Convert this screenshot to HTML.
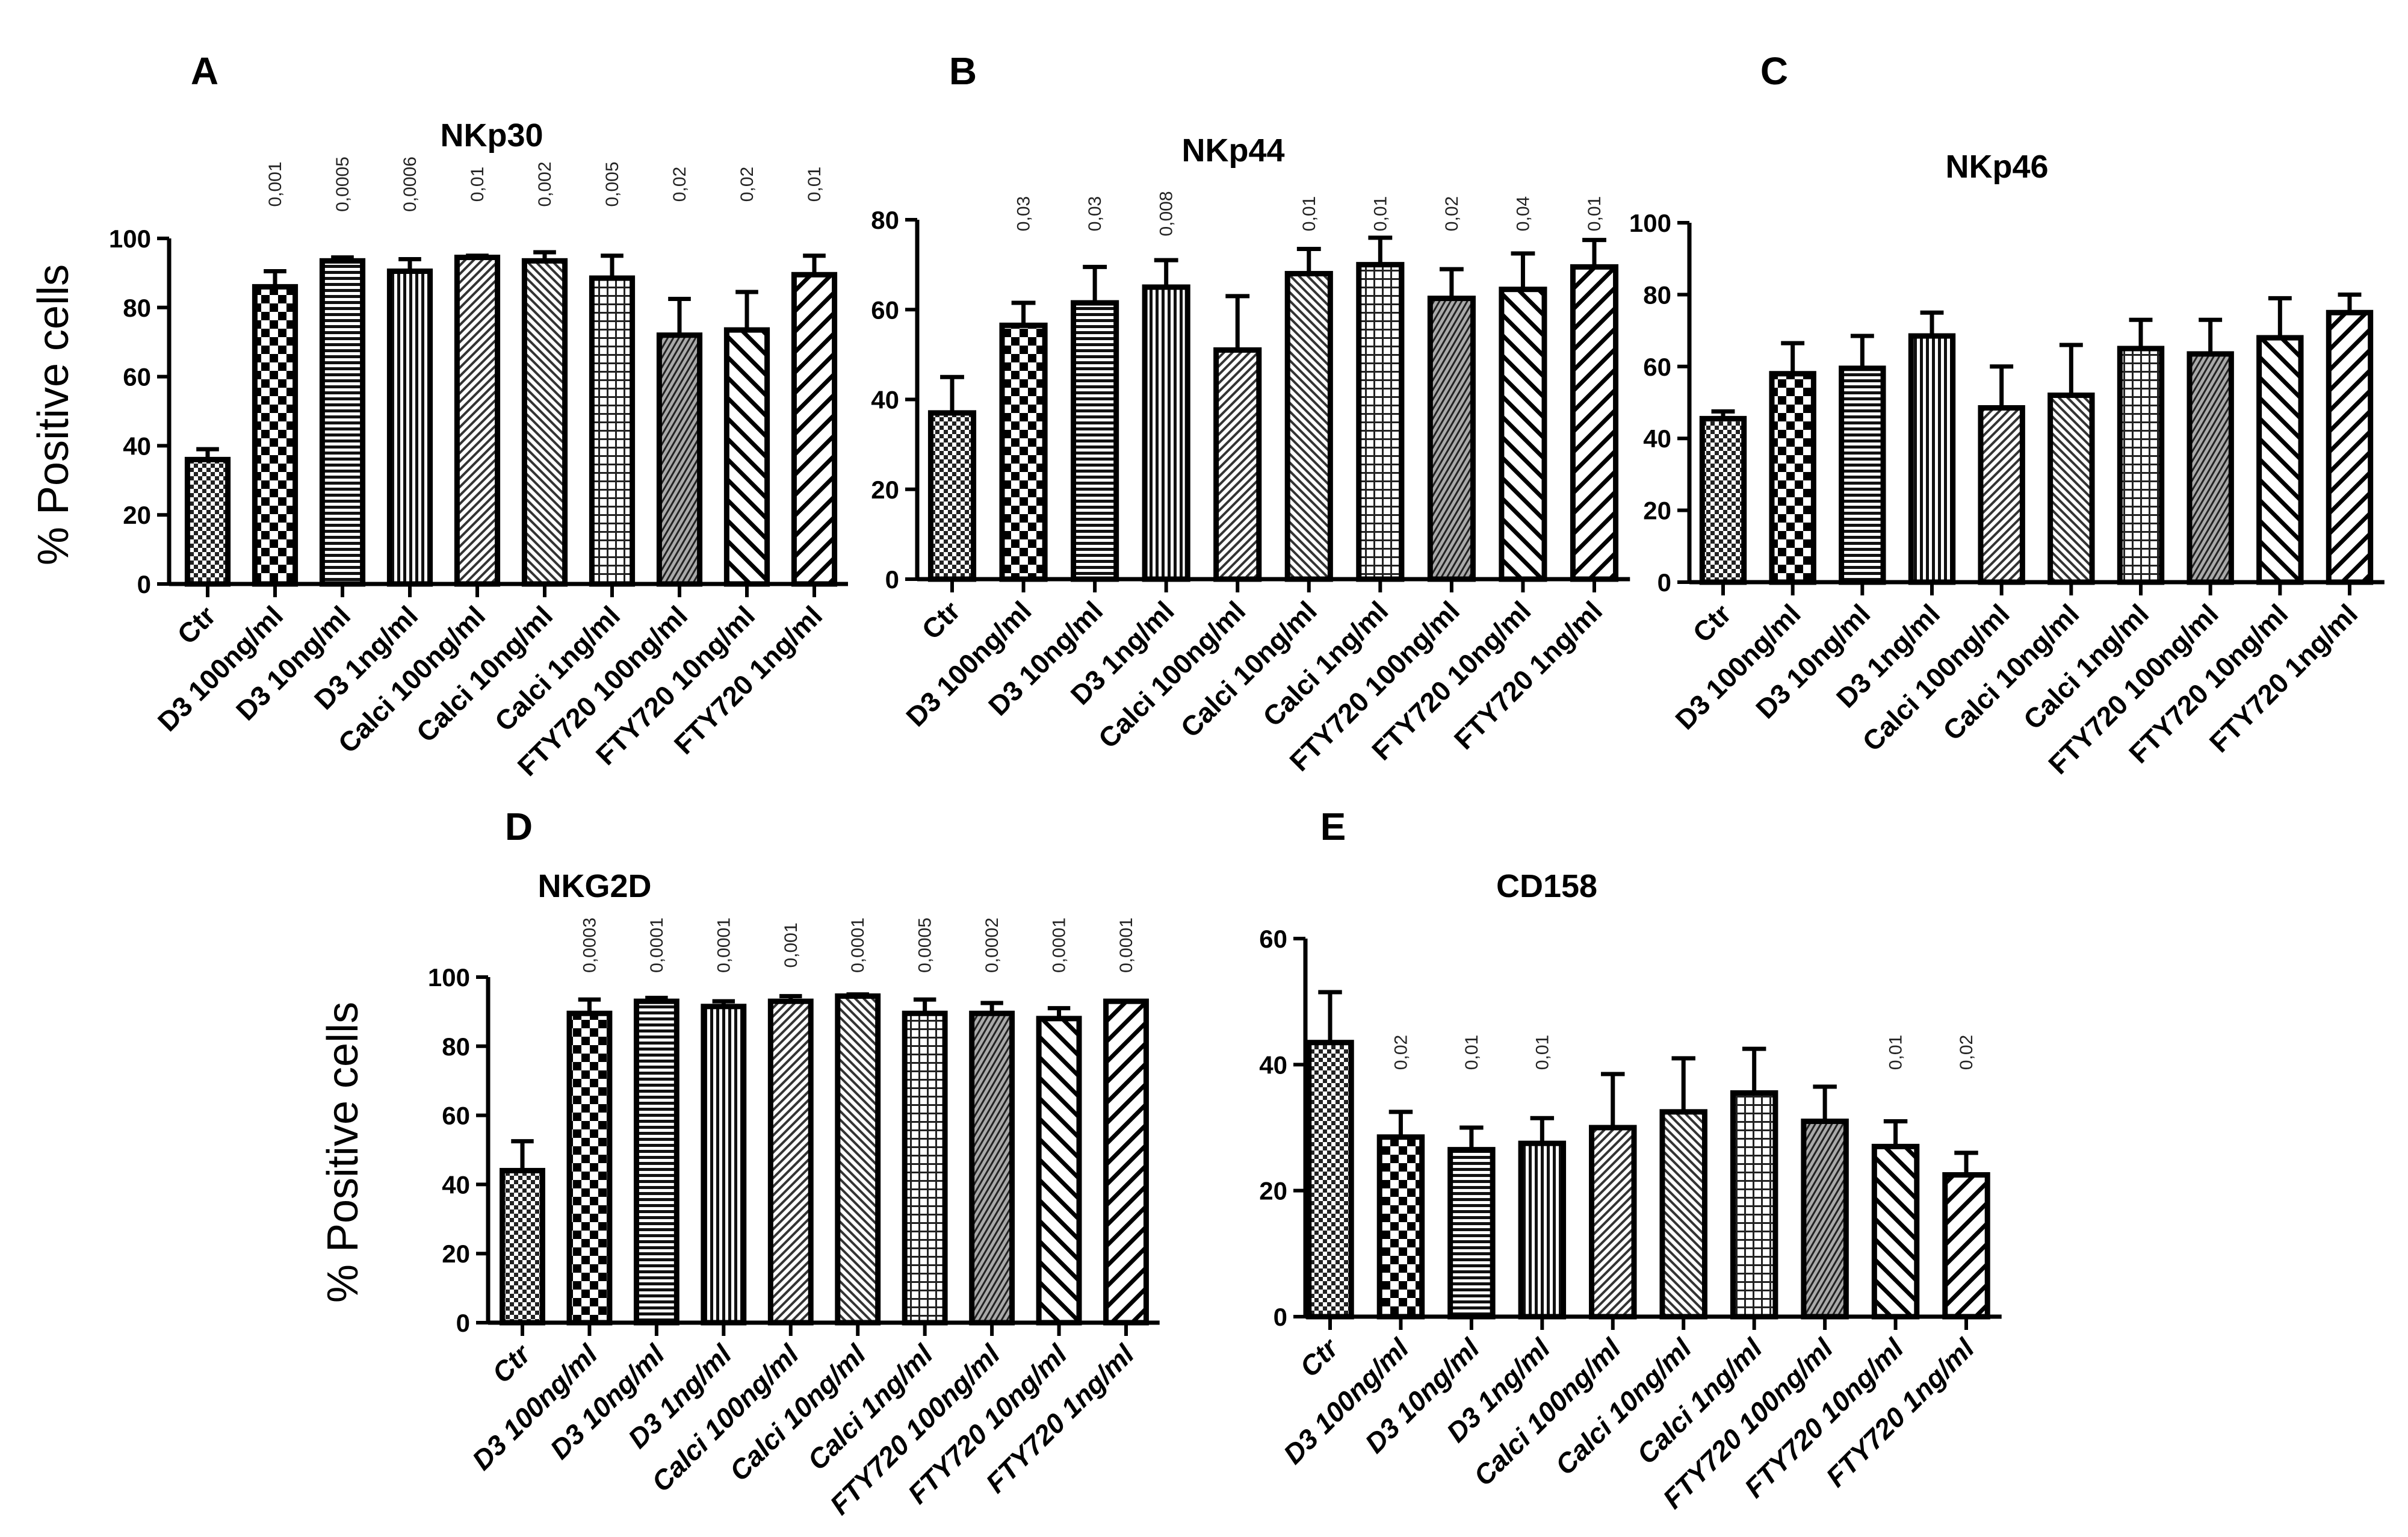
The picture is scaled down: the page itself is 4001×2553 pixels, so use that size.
<!DOCTYPE html>
<html><head><meta charset="utf-8"><style>
html,body{margin:0;padding:0;background:#fff;}
svg{display:block;}
text{font-family:"Liberation Sans",Arial,sans-serif;}
</style></head><body>
<svg id="fig" width="4001" height="2553" viewBox="0 0 4001 2553" xmlns="http://www.w3.org/2000/svg">
<defs>
<pattern id="p0" width="14" height="14" patternUnits="userSpaceOnUse"><rect width="14" height="14" fill="#fff"/><rect width="7" height="7" fill="#222"/><rect x="7" y="7" width="7" height="7" fill="#222"/></pattern>
<pattern id="p1" width="28" height="28" patternUnits="userSpaceOnUse"><rect width="28" height="28" fill="#fff"/><rect width="14" height="14" fill="#000"/><rect x="14" y="14" width="14" height="14" fill="#000"/></pattern>
<pattern id="p2" width="10" height="10" patternUnits="userSpaceOnUse"><rect width="10" height="10" fill="#fff"/><rect width="10" height="5" fill="#111"/></pattern>
<pattern id="p3" width="10" height="10" patternUnits="userSpaceOnUse"><rect width="10" height="10" fill="#fff"/><rect width="5" height="10" fill="#111"/></pattern>
<pattern id="p4" width="10" height="10" patternUnits="userSpaceOnUse" patternTransform="rotate(45)"><rect width="10" height="10" fill="#fff"/><rect width="4" height="10" fill="#333"/></pattern>
<pattern id="p5" width="10" height="10" patternUnits="userSpaceOnUse" patternTransform="rotate(-45)"><rect width="10" height="10" fill="#fff"/><rect width="4" height="10" fill="#333"/></pattern>
<pattern id="p6" width="14" height="14" patternUnits="userSpaceOnUse"><rect width="14" height="14" fill="#fff"/><rect width="14" height="3" fill="#222"/><rect width="3" height="14" fill="#222"/></pattern>
<pattern id="p7" width="8" height="8" patternUnits="userSpaceOnUse" patternTransform="rotate(30)"><rect width="8" height="8" fill="#aaa"/><rect width="3" height="8" fill="#222"/></pattern>
<pattern id="p8" width="24" height="24" patternUnits="userSpaceOnUse" patternTransform="rotate(-45)"><rect width="24" height="24" fill="#fff"/><rect width="7" height="24" fill="#000"/></pattern>
<pattern id="p9" width="24" height="24" patternUnits="userSpaceOnUse" patternTransform="rotate(45)"><rect width="24" height="24" fill="#fff"/><rect width="7" height="24" fill="#000"/></pattern>
</defs>
</svg>
<script>
const categories=["Ctr","D3 100ng/ml","D3 10ng/ml","D3 1ng/ml","Calci 100ng/ml","Calci 10ng/ml","Calci 1ng/ml","FTY720 100ng/ml","FTY720 10ng/ml","FTY720 1ng/ml"];
const nkp30Values=[36,86,93.5,90.5,94.5,93.5,88.5,72,73.5,89.5];
const nkp30Errors=[3,4.5,1,3.5,0.5,2.5,6.5,10.5,11,5.5];
const nkp30P=["","0,001","0,0005","0,0006","0,01","0,002","0,005","0,02","0,02","0,01"];
const nkp44Values=[37,56.5,61.5,65,51,68,70,62.5,64.5,69.5];
const nkp44Errors=[8,5,8,6,12,5.5,6,6.5,8,6];
const nkp44P=["","0,03","0,03","0,008","","0,01","0,01","0,02","0,04","0,01"];
const nkp46Values=[45.5,58,59.5,68.5,48.5,52,65,63.5,68,75];
const nkp46Errors=[2,8.5,9,6.5,11.5,14,8,9.5,11,5];
const nkp46P=["","","","","","","","","",""];
const nkg2dValues=[44,89.5,93,91.5,93,94.5,89.5,89.5,88,93];
const nkg2dErrors=[8.5,4,1,1.5,1.5,0.5,4,3,3,0];
const nkg2dP=["","0,0003","0,0001","0,0001","0,001","0,0001","0,0005","0,0002","0,0001","0,0001"];
const cd158Values=[43.5,28.5,26.5,27.5,30,32.5,35.5,31,27,22.5];
const cd158Errors=[8,4,3.5,4,8.5,8.5,7,5.5,4,3.5];
const cd158P=["","0,02","0,01","0,01","","","","","0,01","0,02"];
const ticks100=[0,20,40,60,80,100];
const ticks80=[0,20,40,60,80];
const ticks60=[0,20,40,60];

const NS="http://www.w3.org/2000/svg";
const svg=document.getElementById('fig');
function mk(tag,attrs,parent){const e=document.createElementNS(NS,tag);for(const k in attrs)e.setAttribute(k,attrs[k]);(parent||svg).appendChild(e);return e;}

const panels=[
 {id:"a",letter:"A",lx:340,ly:140,title:"NKp30",tx:817,ty:243,ax:281,y0:970,ytop:396,max:100,ticks:ticks100,c0:345,c9:1353,vals:nkp30Values,errs:nkp30Errors,p:nkp30P,py:306,italic:false},
 {id:"b",letter:"B",lx:1600,ly:140,title:"NKp44",tx:2049,ty:268,ax:1524,y0:962,ytop:365,max:80,ticks:ticks80,c0:1582,c9:2649,vals:nkp44Values,errs:nkp44Errors,p:nkp44P,py:355,italic:false},
 {id:"c",letter:"C",lx:2948,ly:140,title:"NKp46",tx:3318,ty:295,ax:2807,y0:967,ytop:370,max:100,ticks:ticks100,c0:2863,c9:3904,vals:nkp46Values,errs:nkp46Errors,p:nkp46P,py:0,italic:false},
 {id:"d",letter:"D",lx:862,ly:1395,title:"NKG2D",tx:988,ty:1490,ax:811,y0:2197,ytop:1623,max:100,ticks:ticks100,c0:868,c9:1871,vals:nkg2dValues,errs:nkg2dErrors,p:nkg2dP,py:1570,italic:true},
 {id:"e",letter:"E",lx:2215,ly:1395,title:"CD158",tx:2570,ty:1490,ax:2169,y0:2187,ytop:1559,max:60,ticks:ticks60,c0:2210,c9:3267,vals:cd158Values,errs:cd158Errors,p:cd158P,py:1748,italic:true}
];

panels.forEach(P=>{
 const g=mk('g',{});
 
 
 const L=mk('text',{x:P.lx,y:P.ly,'font-size':64,'font-weight':'bold','text-anchor':'middle'},g);L.textContent=P.letter;
 
 
 const T=mk('text',{x:P.tx,y:P.ty,'font-size':54,'font-weight':'bold','text-anchor':'middle'},g);T.textContent=P.title;
 
 
 const ys=v=>P.y0-(v/P.max)*(P.y0-P.ytop);
 const sp=(P.c9-P.c0)/9;
 const xs=i=>P.c0+i*sp;
 const bw=sp*0.6;
 const xEnd=xs(9)+sp*0.5;
 P.vals.forEach((v,i)=>{
  const x=xs(i)-bw/2,y=ys(v);
  const eb=mk('line',{x1:xs(i),x2:xs(i),y1:y,y2:ys(v+P.errs[i]),stroke:'#000','stroke-width':7},g);
  
  
  const cap=mk('line',{x1:xs(i)-bw*0.28,x2:xs(i)+bw*0.28,y1:ys(v+P.errs[i]),y2:ys(v+P.errs[i]),stroke:'#000','stroke-width':7},g);
  
  
  const r=mk('rect',{x:x,y:y,width:bw,height:P.y0-y,fill:'url(#p'+i+')',stroke:'#000','stroke-width':9},g);
  
  
  if(P.p[i]){
   const t=mk('text',{x:0,y:0,'font-size':30,'text-anchor':'middle',transform:`translate(${xs(i)+10},${P.py}) rotate(-90)`,fill:'#222'},g);
   t.textContent=P.p[i];
   
   
  }
  const tk=mk('line',{x1:xs(i),x2:xs(i),y1:P.y0,y2:P.y0+22,stroke:'#000','stroke-width':6},g);
  
  
  const lt=mk('text',{x:0,y:0,'font-size':46,'font-weight':'bold','font-style':P.italic?'italic':'normal','text-anchor':'end',transform:`translate(${xs(i)+16},${P.y0+56}) rotate(-45)`},g);
  lt.textContent=categories[i];
  
  
 });
 const xa=mk('line',{x1:P.ax,x2:xEnd,y1:P.y0,y2:P.y0,stroke:'#000','stroke-width':7},g);
 
 
 const ya=mk('line',{x1:P.ax,x2:P.ax,y1:P.y0+3,y2:P.ytop,stroke:'#000','stroke-width':7},g);
 
 
 P.ticks.forEach(t=>{
  const l=mk('line',{x1:P.ax-20,x2:P.ax,y1:ys(t),y2:ys(t),stroke:'#000','stroke-width':6},g);
  
  
  const tt=mk('text',{x:P.ax-30,y:ys(t)+15,'font-size':42,'font-weight':'bold','text-anchor':'end'},g);
  tt.textContent=t;
  
  
 });
});
[[89,689],[570,1914]].forEach((p,i)=>{
 const t=mk('text',{x:0,y:0,'font-size':72,'text-anchor':'middle',transform:`translate(${p[0]+24},${p[1]}) rotate(-90)`});
 t.textContent='% Positive cells';
 
 
});
</script>
</body></html>
